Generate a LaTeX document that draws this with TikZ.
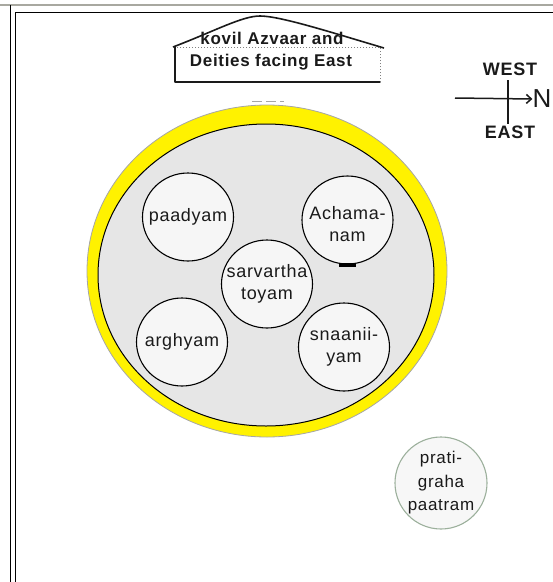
\documentclass[tikz,border=0pt]{standalone}
\usepackage{fontspec}
\setmainfont{Liberation Sans}
\newfontfamily\lbl[LetterSpace=4]{Liberation Sans}
\usetikzlibrary{shapes.geometric,arrows.meta}
\definecolor{txt}{HTML}{1A1A1A}
\definecolor{framegray}{HTML}{A8A8A0}
\definecolor{bowlfill}{HTML}{F6F6F6}
\definecolor{plategray}{HTML}{E6E6E6}
\definecolor{greenish}{HTML}{9CB09C}
\begin{document}
\begin{tikzpicture}[x=1pt,y=-1pt,
  bowl/.style={draw=black, line width=1.1pt, fill=bowlfill, ellipse,
    minimum width=91pt, minimum height=88pt, inner sep=0pt},
  bowltext/.style={align=center, inner sep=0pt,
    font=\lbl\fontsize{18}{22}\selectfont, text=txt},
  hlabel/.style={font=\lbl\bfseries\fontsize{17}{20}\selectfont, text=txt},
  clabel/.style={font=\lbl\bfseries\fontsize{18}{20}\selectfont, text=txt},
  frameline/.style={line width=1.4pt, black}]
\useasboundingbox (0,0) rectangle (553,582);
% frame
\draw[framegray, line width=2pt] (0,4.5) -- (553,4.5);
\draw[frameline] (10.5,5) -- (10.5,582);
\draw[frameline] (15.5,582) -- (15.5,12.5) -- (553,12.5);
% house
\draw[gray, dotted, line width=1pt] (175,47) rectangle (380,82);
\draw[txt, line width=1.6pt, line join=round] (175,47) -- (175,82) -- (380,82);
\draw[txt, line width=1.6pt, line join=round] (173,47) .. controls (215,31) and (242,16) .. (260,16) .. controls (280,16) and (330,32) .. (384,48);
\node[hlabel] (t1) at (272,38) {kovil Azvaar and};
\node[hlabel] (t2) at (271,62) {Deities facing East};
% compass
\node[clabel] (west) at (510,69) {WEST};
\node[clabel] (east) at (510,132) {EAST};
\node[font=\fontsize{26}{28}\selectfont, text=txt, inner sep=0pt] (north) at (542,99) {N};
\coordinate (aw) at (455,98);
\coordinate (vt) at (508,80);
\coordinate (vb) at (508,124);
\draw[txt, line width=1.5pt, -{Straight Barb[length=5pt,width=9pt]}] (aw) -- (north.west);
\draw[txt, line width=1.5pt] (vt) -- (vb);
% plate
\draw[gray!70, line width=0.8pt, fill=yellow] (267,271) ellipse [x radius=180, y radius=166];
\draw[black, line width=1pt, fill=plategray] (266,275) ellipse [x radius=168, y radius=151];
\draw[gray!70, line width=1pt, dash pattern=on 10pt off 4pt] (252,101) -- (284,101);
% bowls
\node[bowl] (paadyam) at (188,217) {};
\node[bowltext] (paadyamT) at (paadyam) {paadyam};
\node[bowl] (achamanam) at (347.5,220) {};
\node[bowltext] (achamanamT) at ([yshift=-4pt]achamanam.center) {Achama-\\nam};
\node[bowl] (sarvartha) at (267,284) {};
\node[bowltext] (sarvarthaT) at (sarvartha) {sarvartha\\toyam};
\node[bowl] (arghyam) at (182,342) {};
\node[bowltext] (arghyamT) at (arghyam) {arghyam};
\node[bowl] (snaaniiyam) at (344,347) {};
\node[bowltext] (snaaniiyamT) at (snaaniiyam) {snaanii-\\yam};
\fill[black] (339,263) rectangle (356,266.5);
\node[bowl, draw=greenish, fill=white!97!black, minimum width=92pt, minimum height=92pt] (patram) at (441,483) {};
\node[bowltext, font=\lbl\fontsize{17}{23.5}\selectfont] (patramT) at (patram) {prati-\\graha\\paatram};
\end{tikzpicture}
\end{document}
